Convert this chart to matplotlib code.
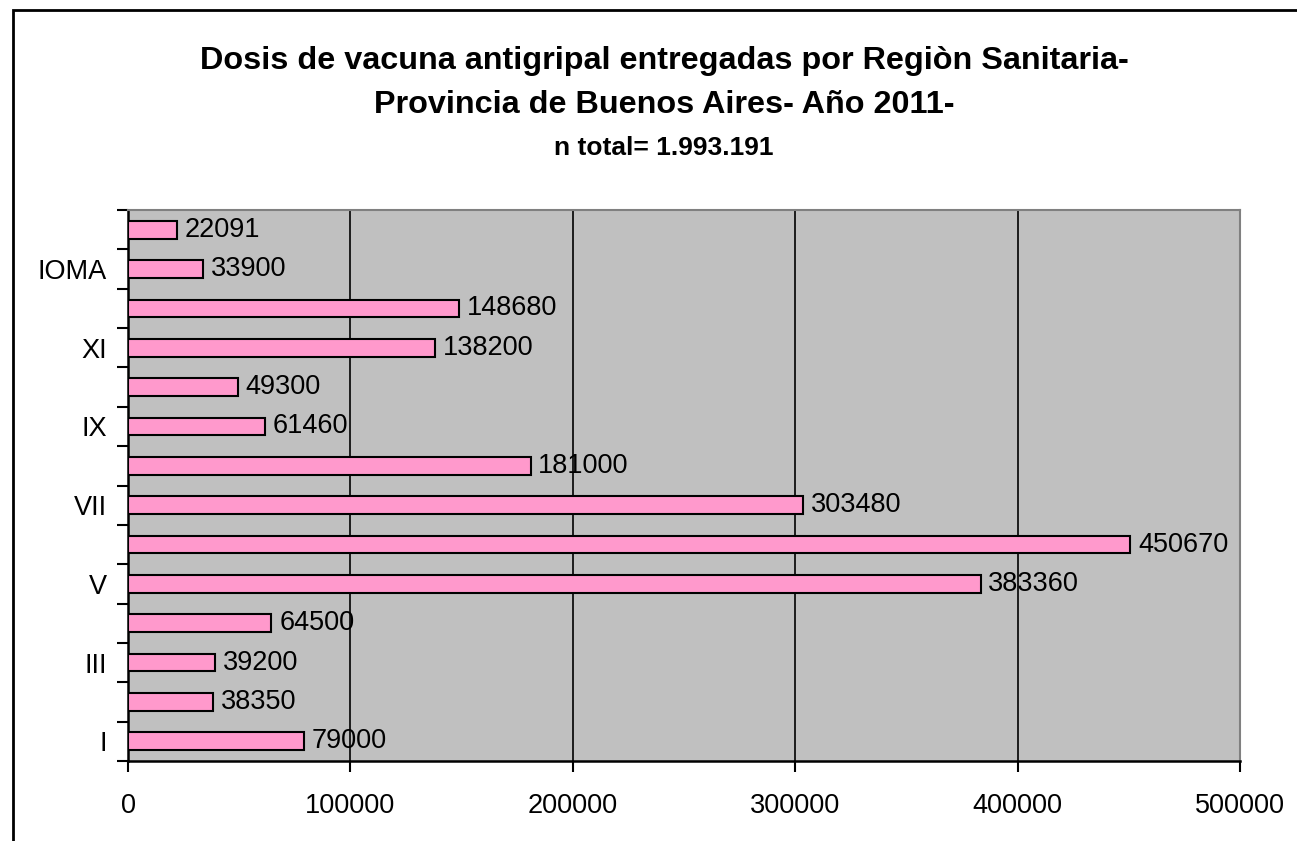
import matplotlib
matplotlib.use("Agg")
import matplotlib.pyplot as plt
from matplotlib.patches import Rectangle
import numpy as np

plt.rcParams['font.family'] = ['Liberation Sans', 'DejaVu Sans']

regiones = ["I", "II", "III", "IV", "V", "VI", "VII", "VIII", "IX", "X",
            "XI", "XII", "IOMA", "Otros"]
dosis = [79000, 38350, 39200, 64500, 383360, 450670, 303480, 181000,
         61460, 49300, 138200, 148680, 33900, 22091]
x_ticks = [0, 100000, 200000, 300000, 400000, 500000]

W, H = 1297, 841
fig = plt.figure(figsize=(W / 100, H / 100), dpi=100)
fig.patch.set_facecolor("white")

# outer chart frame (only left and top visible)
fig.patches.append(Rectangle((12.5 / W, -0.1), 1.2, 1 - 10.5 / H + 0.1,
                             transform=fig.transFigure, fill=False,
                             edgecolor="black", linewidth=2, zorder=0))

ax = fig.add_axes([128 / W, 1 - 761 / H, (1240 - 128) / W, (761 - 210) / H])
ax.set_facecolor("#C0C0C0")

FS = 19.5
y = np.arange(len(regiones))
ax.barh(y, dosis, height=0.45, color="#FF99CC", edgecolor="black",
        linewidth=1.5, zorder=3)
for yi, v in zip(y, dosis):
    ax.text(v + 3500, yi, f"{v}", va="center", ha="left", fontsize=FS,
            color="black", zorder=4)

ax.set_xlim(0, 500000)
ax.set_ylim(-0.5, len(regiones) - 0.5)
ax.set_xticks(x_ticks)
ax.set_xticklabels([str(t) for t in x_ticks], fontsize=FS)
ax.xaxis.grid(True, color="black", linewidth=1.2, zorder=1)
ax.set_axisbelow(True)

# y ticks at category boundaries, labels at every other category
ax.set_yticks(np.arange(-0.5, len(regiones), 1.0))
ax.set_yticklabels([])
ax.set_yticks(y, minor=True)
ax.set_yticklabels([lab if i % 2 == 0 else "" for i, lab in enumerate(regiones)],
                   minor=True, fontsize=FS)
ax.tick_params(axis="y", which="minor", length=0, pad=15)
ax.tick_params(axis="y", which="major", length=8, width=1.5, direction="out")
ax.tick_params(axis="x", length=8, width=1.5, direction="out", pad=15)

for s in ["left", "bottom"]:
    ax.spines[s].set_color("black")
    ax.spines[s].set_linewidth(1.8)
for s in ["top", "right"]:
    ax.spines[s].set_color("#808080")
    ax.spines[s].set_linewidth(1.5)

cx = 664 / W
fig.text(cx, 1 - 69 / H, "Dosis de vacuna antigripal entregadas por Regiòn Sanitaria-",
         ha="center", va="baseline", fontsize=23.3, fontweight="bold")
fig.text(cx, 1 - 113 / H, "Provincia de Buenos Aires- Año 2011-",
         ha="center", va="baseline", fontsize=23.3, fontweight="bold")
fig.text(cx, 1 - 155 / H, "n total= 1.993.191",
         ha="center", va="baseline", fontsize=19, fontweight="bold")

fig.savefig("out.png", dpi=100, facecolor="white")
